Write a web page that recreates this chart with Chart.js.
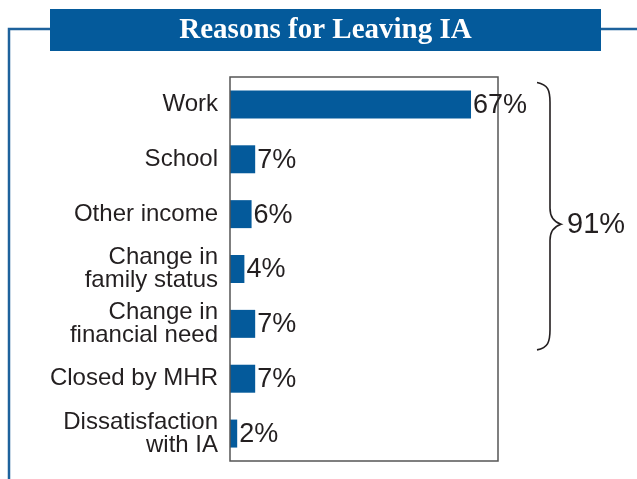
<!DOCTYPE html>
<html>
<head>
<meta charset="utf-8">
<title>Reasons for Leaving IA</title>
<script src="https://cdn.jsdelivr.net/npm/chart.js@4/dist/chart.umd.min.js"></script>
<style>
    html, body { margin: 0; padding: 0; background: #ffffff; }
    #reasons-chart { display: block; }
</style>
</head>
<body>
<canvas id="reasons-chart" width="637" height="479"></canvas>
<script>
// chart data
const reasonLabels = [
    'Work',
    'School',
    'Other income',
    ['Change in', 'family status'],
    ['Change in', 'financial need'],
    'Closed by MHR',
    ['Dissatisfaction', 'with IA']
];
const reasonPercents = [67, 7, 6, 4, 7, 7, 2];
const bracketFirst = 0;   // Work
const bracketLast = 4;    // Change in financial need
const chartTitle = 'Reasons for Leaving IA';

const BLUE = '#045a9b';
const TEXT = '#231f20';

document.addEventListener('DOMContentLoaded', function() {
    // title bar + frame line around the chart
    const framePlugin = {
        id: 'frame',
        beforeDraw: function(chart) {
            const ctx = chart.ctx;
            ctx.save();
            ctx.fillStyle = '#ffffff';
            ctx.fillRect(0, 0, chart.width, chart.height);

            ctx.strokeStyle = '#1d629c';
            ctx.lineWidth = 2.5;
            ctx.beginPath();
            ctx.moveTo(9, chart.height);
            ctx.lineTo(9, 29);
            ctx.lineTo(chart.width, 29);
            ctx.stroke();

            ctx.fillStyle = BLUE;
            ctx.fillRect(50, 9, 551, 42);

            ctx.fillStyle = '#ffffff';
            ctx.font = 'bold 29px "Liberation Serif", "Times New Roman", serif';
            ctx.textAlign = 'center';
            ctx.textBaseline = 'middle';
            ctx.fillText(chartTitle, 325.5, 31);
            ctx.restore();
        }
    };

    // box round the plot, value labels, brace with total
    const labelsPlugin = {
        id: 'valueLabels',
        afterDatasetsDraw: function(chart) {
            const ctx = chart.ctx;
            const area = chart.chartArea;
            const yScale = chart.scales.y;
            ctx.save();

            ctx.strokeStyle = '#555555';
            ctx.lineWidth = 1.5;
            ctx.strokeRect(area.left, area.top, area.right - area.left, area.bottom - area.top);

            ctx.fillStyle = TEXT;
            ctx.font = '27px "Liberation Sans", Arial, sans-serif';
            ctx.textAlign = 'left';
            ctx.textBaseline = 'middle';
            chart.getDatasetMeta(0).data.forEach(function(bar, i) {
                ctx.fillText(reasonPercents[i] + '%', bar.x + 2, bar.y + 1);
            });

            // curly brace
            const top = yScale.getPixelForValue(bracketFirst) - 22;
            const bottom = yScale.getPixelForValue(bracketLast) + 26;
            const mid = (top + bottom) / 2 + 8;
            const x0 = 537, x1 = 550, tip = 561;
            ctx.strokeStyle = '#231f20';
            ctx.lineWidth = 1.6;
            ctx.beginPath();
            ctx.moveTo(x0, top);
            ctx.bezierCurveTo(x1 - 2, top + 2, x1, top + 8, x1, top + 20);
            ctx.lineTo(x1, mid - 16);
            ctx.bezierCurveTo(x1, mid - 6, tip - 6, mid - 2, tip, mid);
            ctx.bezierCurveTo(tip - 6, mid + 2, x1, mid + 6, x1, mid + 16);
            ctx.lineTo(x1, bottom - 20);
            ctx.bezierCurveTo(x1, bottom - 8, x1 - 2, bottom - 2, x0, bottom);
            ctx.stroke();

            let total = 0;
            for (let i = bracketFirst; i <= bracketLast; i++) {
                total += reasonPercents[i];
            }
            ctx.font = '29px "Liberation Sans", Arial, sans-serif';
            ctx.fillText(total + '%', 567, mid + 1);
            ctx.restore();
        }
    };

    const ctx = document.getElementById('reasons-chart').getContext('2d');
    new Chart(ctx, {
        type: 'bar',
        data: {
            labels: reasonLabels,
            datasets: [{
                data: reasonPercents,
                backgroundColor: BLUE,
                borderWidth: 0,
                barPercentage: 0.51,
                categoryPercentage: 1
            }]
        },
        options: {
            indexAxis: 'y',
            responsive: false,
            animation: false,
            layout: { padding: { left: 0, top: 77, right: 139, bottom: 18 } },
            scales: {
                x: { display: false, min: 0, max: 74.5 },
                y: {
                    afterFit: function(scale) {
                        scale.width = 230;
                        scale.paddingTop = 0;
                        scale.paddingBottom = 0;
                    },
                    grid: { display: false, drawTicks: false },
                    border: { display: false },
                    ticks: {
                        color: TEXT,
                        padding: 12,
                        font: { family: '"Liberation Sans", Arial, sans-serif', size: 24, lineHeight: 0.96 }
                    }
                }
            },
            plugins: {
                legend: { display: false },
                title: { display: false },
                tooltip: { enabled: false }
            }
        },
        plugins: [framePlugin, labelsPlugin]
    });
});
</script>
</body>
</html>
